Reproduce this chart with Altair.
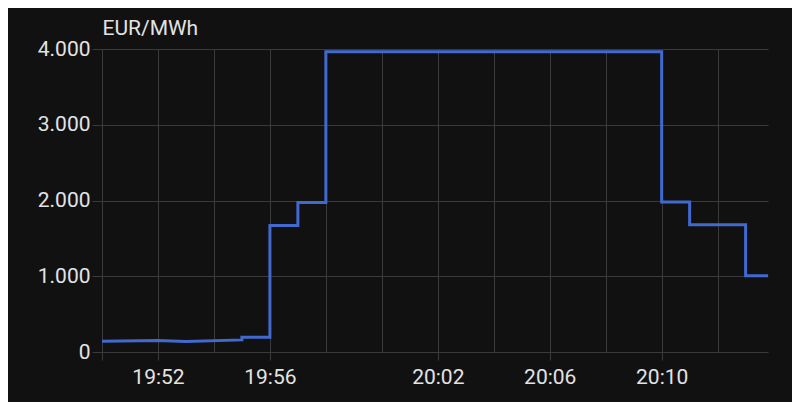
import altair as alt
import pandas as pd

# Data (price in EUR/MWh over time)
times = ["19:50:00", "19:52:00", "19:53:00", "19:55:00", "19:55:00", "19:56:00",
         "19:56:00", "19:57:00", "19:57:00", "19:58:00", "19:58:00", "20:10:00",
         "20:10:00", "20:11:00", "20:11:00", "20:13:00", "20:13:00", "20:13:48"]
prices = [142, 152, 138, 160, 195, 195,
          1670, 1670, 1975, 1975, 3965, 3965,
          1980, 1980, 1680, 1680, 1005, 1005]

grid_times = ["19:50", "19:52", "19:54", "19:56", "19:58", "20:00", "20:02",
              "20:04", "20:06", "20:08", "20:10", "20:12"]
label_times = ["19:52", "19:56", "20:02", "20:06", "20:10"]
tick_times = ["19:50"] + label_times
y_ticks = [0, 1000, 2000, 3000, 4000]

day = "2024-01-01T"
df = pd.DataFrame({
    "t": [day + t + "Z" for t in times],
    "price": prices,
    "i": list(range(len(times))),
})

grid_vals = [alt.DateTime(year=2024, month=1, date=1, hours=int(g[:2]), minutes=int(g[3:]), utc=True)
             for g in grid_times]

lab_list = "[" + ",".join("'%s'" % s for s in label_times) + "]"
tick_list = "[" + ",".join("'%s'" % s for s in tick_times) + "]"

grid_color = "#3a3a3a"
text_color = "#e3e3e3"
font = "Roboto"

x_axis = alt.Axis(
    values=grid_vals,
    labelExpr="indexof(%s, utcFormat(datum.value, '%%H:%%M')) >= 0 ? utcFormat(datum.value, '%%H:%%M') : ''" % lab_list,
    labelOverlap=False,
    labelFlush=False,
    grid=True,
    gridColor=grid_color,
    gridWidth=1,
    domain=False,
    ticks=True,
    tickColor=grid_color,
    tickSize=8,
    tickOpacity={"condition": {"test": "indexof(%s, utcFormat(datum.value, '%%H:%%M')) >= 0" % tick_list, "value": 1}, "value": 0},
    labelPadding=6,
    labelFontSize=21,
    labelColor=text_color,
    labelFont=font,
    title=None,
)

y_axis = alt.Axis(
    values=y_ticks,
    labelExpr="replace(format(datum.value, ','), ',', '.')",
    grid=True,
    gridColor=grid_color,
    gridWidth=1,
    domain=False,
    ticks=True,
    tickColor=grid_color,
    tickSize=10,
    labelPadding=2,
    labelFontSize=21,
    labelColor=text_color,
    labelFont=font,
    title="EUR/MWh",
    titleAngle=0,
    titleAlign="left",
    titleBaseline="alphabetic",
    titleX=0,
    titleY=-15,
    titleFontSize=21,
    titleFontWeight="normal",
    titleColor=text_color,
    titleFont=font,
)

chart = alt.Chart(df).mark_line(
    color="#4269d0", strokeWidth=3, strokeJoin="miter", strokeCap="butt"
).encode(
    x=alt.X("t:T", axis=x_axis,
            scale=alt.Scale(type="utc", nice=False,
                            domain=[day + "19:50:00Z", day + "20:13:48Z"])),
    y=alt.Y("price:Q", axis=y_axis, scale=alt.Scale(domain=[0, 4000], nice=False)),
    order="i:Q",
).properties(
    width=666,
    height=303,
    autosize=alt.AutoSizeParams(type="none"),
    padding={"left": 94, "top": 41, "right": 24, "bottom": 50},
    background="#111111",
).configure_view(stroke=None)

chart.save("out.html", embed_options={"renderer": "svg", "actions": False})
